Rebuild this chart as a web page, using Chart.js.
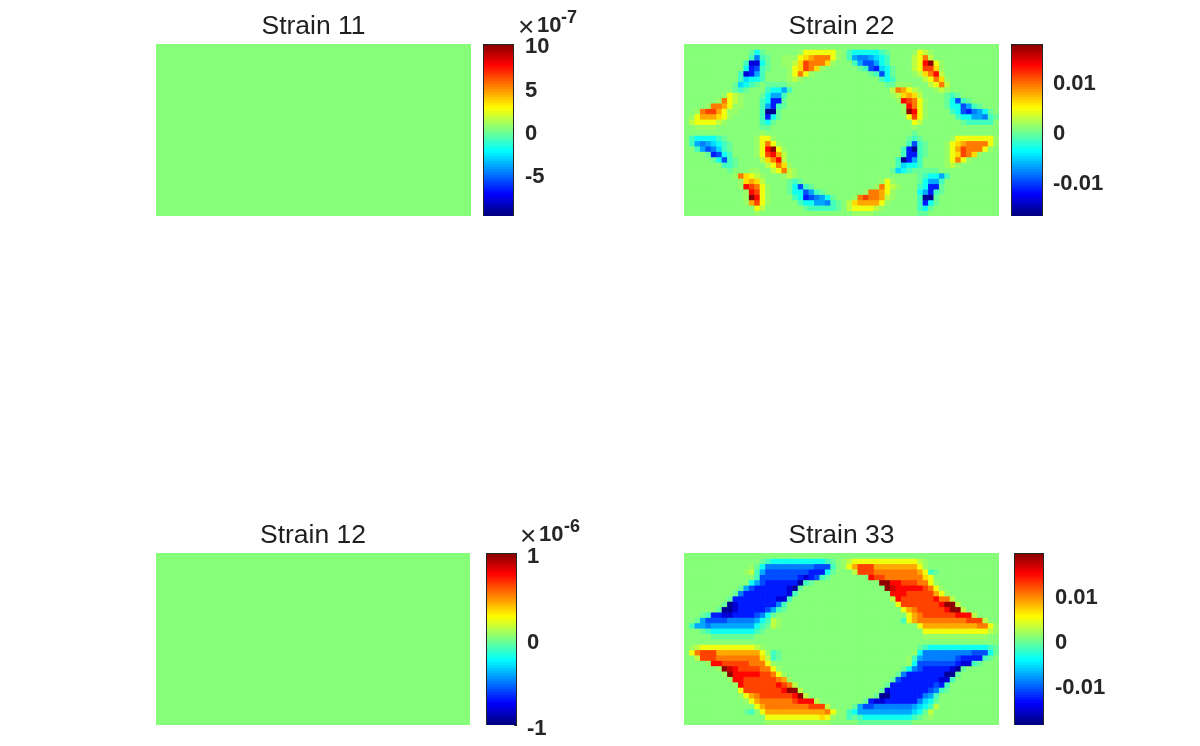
<!DOCTYPE html>
<html>
<head>
<meta charset="utf-8">
<script src="https://cdn.jsdelivr.net/npm/chart.js@4"></script>
<style>
html,body{margin:0;padding:0;background:#fff;width:1200px;height:746px;overflow:hidden}
canvas{position:absolute;display:block}
.exp{position:absolute;color:#262626;font-family:"Liberation Sans",Arial,sans-serif;white-space:nowrap;line-height:1}
</style>
</head>
<body>
<script>
// Cell codes: "." is zero, digits are positive levels, letters are negative levels.
const levelCodes = {'.':0.012,'+':0.05,'1':0.12,'2':0.22,'3':0.32,'4':0.42,'5':0.51,'6':0.62,'7':0.74,'8':0.85,'9':0.97,
                    '-':-0.05,'a':-0.12,'b':-0.22,'c':-0.32,'d':-0.42,'e':-0.5,'f':-0.6,'g':-0.7,'h':-0.83,'i':-0.96};

const strain11Rows = ['.'];
const strain12Rows = ['.'];

const strain22Rows = [
".......... .......... .......... .......... .......... ........",
".......... ..-b-..... .+222222+. abbbbba-.. ..+21+.... ........",
".......... ..aea-..++ +2345552+. adeedcba.. ..1251.... ........",
".......... .ahhb-..++ 1365553+.. .adffdba.. ..12792+.. ........",
".......... .bgfa-...+ 23653+.... ..-afgcb-. ..12663+.. ........",
".......... ahgda....+ 252+...... ....-afb-. ..+13571.. ........",
".......... acbba....+ 1+........ ......aba. ....1253+. ........",
".........- cba-.----. .......... .......--+ ++...1251. ........",
".........- a-...abbda .......... ........15 421+..+1+. ........",
".......+21 +...-bdda. .......... ........+1 3431....-a -.......",
"......+521 +...abgg-. .......... .........+ 7652+...-b fa-.....",
"....+5542+ +...adga-. .......... .......... +752+...-b bfda-...",
"..+56642++ ....aii-.. .......... .......... +972+....a bfgedb-.",
".+244432+. ....agb-.. .......... .......... .262+..... abbddea-",
".122221+.. ....ab-... .......... .......... ..21...... .-aaaaa.",
"..++++.... ....--.... .......... .......... ..+....... ........",
".......... ....+..... .......... .......... ..-....... ........",
".abbbba-.. ...+22+... .......... .......... .-a-.....+ 2222222+",
".adedcba-. ...+252+.. .......... .......... .afa-...+2 3455552+",
"..adfeca-. ...+2792+. .......... .......... agia-...+2 465552+.",
"....-gfba. ...+26741. .......... .......... agga-...+2 3653+...",
".....-bfa- ....13571. .......... .........a igda....+2 52+.....",
".......aa- .....1253+ .......... .........a cbba....+1 +.......",
"........-. ..++..1251 +......... ........-c ba-----... ........",
".........+ 5321+...+1 +......... .......... ...-abbda. ........",
".......... +3431....- a-........ ......+2+. ...-bdda.. ........",
".......... +7652+...- bfa-...... .....+521+ ...abgg-.. ........",
".......... .+762+...- bbfda-.... ...+5542+. ...bdga-.. ........",
".......... .+972+.... abgfedb-.. .+565541+. ...aii-... ........",
".......... .+462+.... .abbddea-. 1344442+.. ...agb-... ........",
".......... ...21..... ..-aaaaa-. 122221+... ...ab-.... ........",
".......... ...+...... .......... .++++..... ...--..... ........"
];

const strain33Rows = [
".......... .......... .......... .......... .......... ........",
".......... ....-abbbb bbbbbba-.+ 1222222222 2221+..... ........",
".......... ..+-beeeee eeeefffa.+ 2466644444 4442+..... ........",
".......... .+1adfffff fffgggb-.. .166655555 55542a-... ........",
".......... ...affffff fghgfa-... ....766555 555532.... ........",
".......... ..bdfggggg gia-...... ......9977 666552+... ........",
".......... -dfggggggh i-........ .......987 7777652+.. ........",
".........- eggggggggh a......... ........77 76666642+. ........",
"........-g ggggggghha .......... ........17 6666667551 ........",
".......-ih gggggggea. .......... .........2 6666666799 1.......",
"......-iih gggggfda-. .......... .......... 2456666679 91......",
"...-agghhg gggfeb-... .......... .......... .245666666 7771....",
"..-dffffee eeedba1+.. .......... .......... a245555555 556661..",
".addeddddd dddba-1+.. .......... .......... ...2444444 4444552+",
"...-abbbbb bbba-..... .......... .......... ....222222 2222221+",
".....----- ---....... .......... .......... ....++++++ ++++++..",
".......... .......... .......... .......... .......... ........",
".+12222222 2221+..... .......... .......... ...-abbbbb bbbbbba-",
".256664444 44442+a-.. .......... .......... ..+beeeeee eeefffb-",
"..16665555 555531a-.. .......... .......... .+adeeeeee fgggga-.",
"....+77666 665552+... .......... .......... .+bfffffff ghha-...",
"......+987 6666552+.. .......... .......... -befgggggh i-......",
".......+97 77776652+. .......... .........- egggggggii -.......",
"........+7 766666654+ .......... ........-f ggggggghha ........",
".........+ 7666666765 1......... .......-gg ggggggfga. ........",
".......... 2666666679 91........ ......-hgg gggggfea-. ........",
".......... +245666666 791....... .....-iigg ggggeda... ........",
".......... .+24555555 67771..... ...-ghhggg gggecb-... ........",
".......... ...2455555 5556661... .-dffeeeee eedcba1... ........",
".......... .-a.244444 44444452+. abdddddddd ddcb-1.... ........",
".......... .....22222 2222232+.. a-abbbbbbb bba-.+.... ........",
".......... .....+++++ +++++++... ..-------- --........ ........"
];

const columnCount = 58;
const colorbarSteps = [0,1,2,3,4,5,6,7,8,9,10,11,12,13,14,15,16,17,18,19,20,21,22,23,24,25,26,27,28,29,30,31,
                       32,33,34,35,36,37,38,39,40,41,42,43,44,45,46,47,48,49,50,51,52,53,54,55,56,57,58,59,60,61,62,63];

const titles = ['Strain 11','Strain 22','Strain 12','Strain 33'];
const tick11 = [-5,0,5,10], range11 = [-9.85,10.05];
const tick22 = [-0.01,0,0.01], range22 = [-0.0172,0.0172];
const tick12 = [-1,0,1], range12 = [-1,1];
const tick33 = [-0.01,0,0.01], range33 = [-0.0191,0.0191];

function jet(n){ // n in [-1,1]
  const c = v => Math.round(255*Math.max(0,Math.min(1,v)));
  const r = 1.5-Math.abs(2*n-1.0);
  const g = 1.5-Math.abs(2*n);
  const b = 1.5-Math.abs(2*n+1.0);
  return 'rgb('+c(r)+','+c(g)+','+c(b)+')';
}

function addCanvas(left,top,width,height){
  const cv=document.createElement('canvas');
  cv.style.left=left+'px'; cv.style.top=top+'px';
  cv.style.width=width+'px'; cv.style.height=height+'px';
  cv.width=width; cv.height=height;
  document.body.appendChild(cv);
  return cv;
}

function heatmap(left,top,width,height,title,rows,cols){
  const grid=rows.map(s=>s.replace(/ /g,'').padEnd(cols,'.'));
  const labels=[]; for(let c=0;c<cols;c++) labels.push(String(c));
  const datasets=grid.map((row,r)=>({
    data:labels.map(()=>[r,r+1]),
    backgroundColor:labels.map((_,c)=>jet(levelCodes[row[c]])),
    borderWidth:0,barPercentage:1,categoryPercentage:1,grouped:false
  }));
  const titleH=34;
  new Chart(addCanvas(left,top-titleH,width,height+titleH),{
    type:'bar',
    data:{labels,datasets},
    options:{
      responsive:false,animation:false,devicePixelRatio:1,
      layout:{padding:0},
      plugins:{legend:{display:false},tooltip:{enabled:false},
        title:{display:true,text:title,color:'#1f1f1f',
          font:{family:'"Liberation Sans",Arial,sans-serif',size:26.5,weight:'normal',lineHeight:1.2},
          padding:{top:1,bottom:1.2}}},
      scales:{
        x:{type:'category',display:false,offset:true},
        y:{type:'linear',display:false,min:0,max:grid.length,reverse:true}
      }
    }
  });
}

function colorbar(left,top,width,height,range,ticks,gap,shift){
  const pad=30, axisW=110;
  const span=range[1]-range[0];
  const count=colorbarSteps.length;
  const datasets=colorbarSteps.map(i=>({
    data:[[range[0]+span*(i/count+1e-6),range[0]+span*((i+1)/count+0.002)]],
    backgroundColor:jet((i+0.5)/32-1),
    borderWidth:0,barPercentage:1,categoryPercentage:1,grouped:false
  }));
  datasets.push({data:[[range[0],range[1]]],backgroundColor:'rgba(0,0,0,0)',borderColor:'#262626',borderWidth:1,
    barPercentage:1,categoryPercentage:1,grouped:false,inflateAmount:0,order:-1});
  new Chart(addCanvas(left,top-pad,width+axisW,height+2*pad),{
    type:'bar',
    data:{labels:['bar'],datasets},
    options:{
      responsive:false,animation:false,devicePixelRatio:1,
      layout:{padding:{top:pad,bottom:pad,left:0,right:0}},
      plugins:{legend:{display:false},tooltip:{enabled:false},title:{display:false}},
      scales:{
        x:{type:'category',display:false,offset:true},
        y:{type:'linear',position:'right',min:range[0],max:range[1],
          afterBuildTicks:s=>{s.ticks=ticks.map(v=>({value:v}));},
          afterFit:s=>{s.width=axisW;},
          border:{display:false},
          grid:{drawOnChartArea:false,drawTicks:true,tickLength:-3,color:'#262626',lineWidth:1},
          ticks:{autoSkip:false,padding:gap+3,labelOffset:shift,color:'#262626',
            font:{family:'"Liberation Sans",Arial,sans-serif',size:22,weight:'bold'},
            callback:v=>String(v)}
        }
      }
    }
  });
}

function exponent(x,y,power,superX){
  const mk=(txt,l,t,size,bold)=>{
    const d=document.createElement('div');d.className='exp';d.textContent=txt;
    d.style.left=l+'px';d.style.top=t+'px';d.style.fontSize=size+'px';d.style.fontWeight=bold?'bold':'normal';
    document.body.appendChild(d);
  };
  mk('×',x,y-3,28,false);
  mk('10',x+19,y-2,22,true);
  mk(power,x+superX,y-8,18,true);
}

heatmap(156,44,315,172,titles[0],strain11Rows,1);
heatmap(684,44,315,172,titles[1],strain22Rows,columnCount);
heatmap(156,553,314,172,titles[2],strain12Rows,1);
heatmap(684,553,315,172,titles[3],strain33Rows,columnCount);

colorbar(483,44,31,172,range11,tick11,11,3);
colorbar(1011,44,32,172,range22,tick22,10,4);
colorbar(486,553,31,172,range12,tick12,10,3.5);
colorbar(1014,553,30,172,range33,tick33,11,3.5);

exponent(518,15.5,'-7',43);
exponent(520,525,'-6',44);
</script>
</body>
</html>
